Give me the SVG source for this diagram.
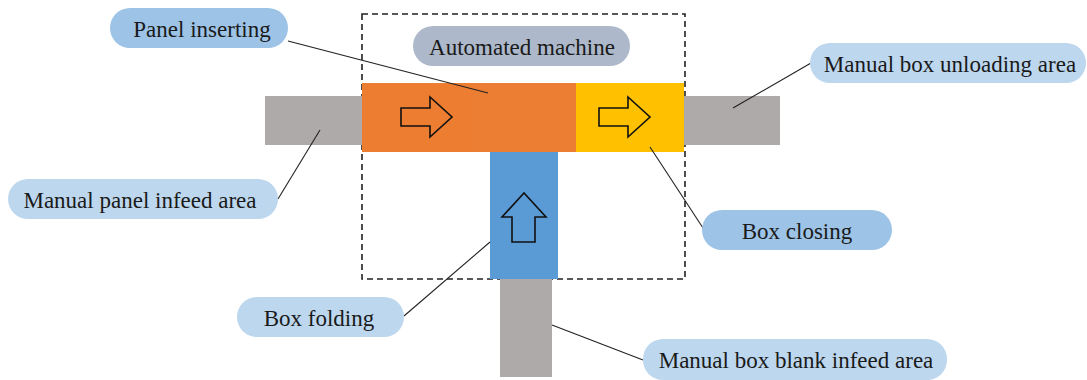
<svg xmlns="http://www.w3.org/2000/svg" width="1087" height="380" viewBox="0 0 1087 380">
<style>
text{font-family:"Liberation Serif","Times New Roman",serif;font-size:23px;fill:#1a1a1a;text-anchor:middle;dominant-baseline:central}
.gray{fill:#AEAAAA}
.lead{stroke:#222;stroke-width:1.1;fill:none}
.arr{fill:none;stroke:#111;stroke-width:1.6;stroke-linejoin:miter}
.p1{fill:#9DC3E6}
.p2{fill:#BDD7EE}
</style>
<rect width="1087" height="380" fill="#fff"/>
<g id="machine-area">
<rect x="362" y="14" width="323" height="265" fill="none" stroke="#222" stroke-width="1.6" stroke-dasharray="6,4"/>
</g>
<g id="panel-infeed-conveyor"><rect class="gray" x="265" y="96" width="97" height="49"/></g>
<g id="unloading-conveyor"><rect class="gray" x="684" y="96" width="96" height="49"/></g>
<g id="blank-infeed-conveyor"><rect class="gray" x="500" y="279" width="52" height="98"/></g>
<g id="station-infeed"><rect x="362" y="83" width="109" height="69" fill="#ED7D31"/>
<path class="arr" d="M401,108 H430 V97 L452,117 L430,137 V126 H401 Z"/></g>
<g id="station-inserting"><rect x="470" y="83" width="106" height="69" fill="#EC7E33"/></g>
<g id="station-closing"><rect x="576" y="83" width="108" height="69" fill="#FFC000"/>
<path class="arr" d="M599,108 H628 V97 L650,117 L628,137 V126 H599 Z"/></g>
<g id="station-folding"><rect x="490" y="152" width="68" height="127" fill="#5B9BD5"/>
<path class="arr" d="M512,242 V217 H502 L524,193 L546,217 H535 V242 Z"/></g>
<g id="connectors">
<line class="lead" x1="288" y1="41" x2="488" y2="93"/>
<line class="lead" x1="811" y1="63" x2="733" y2="108"/>
<line class="lead" x1="278" y1="199" x2="320" y2="130"/>
<line class="lead" x1="703" y1="228" x2="650" y2="147"/>
<line class="lead" x1="404" y1="316" x2="490" y2="242"/>
<line class="lead" x1="643" y1="360" x2="552" y2="325"/>
</g>
<g id="label-panel-inserting"><rect class="p1" x="110" y="8" width="178" height="40" rx="20"/><text x="202" y="29">Panel inserting</text></g>
<g id="label-automated"><rect x="413" y="26" width="217" height="40" rx="20" fill="#ADB9CA"/><text x="522" y="47">Automated machine</text></g>
<g id="label-unloading"><rect class="p2" x="810" y="43" width="276" height="40" rx="20"/><text x="950" y="64">Manual box unloading area</text></g>
<g id="label-panel-infeed"><rect class="p2" x="8" y="179" width="270" height="40" rx="20"/><text x="140" y="200">Manual panel infeed area</text></g>
<g id="label-box-closing"><rect class="p1" x="702" y="210" width="190" height="40" rx="20"/><text x="797" y="231">Box closing</text></g>
<g id="label-box-folding"><rect class="p2" x="237" y="297" width="167" height="40" rx="20"/><text x="319" y="318">Box folding</text></g>
<g id="label-blank-infeed"><rect class="p2" x="643" y="339" width="304" height="41" rx="20"/><text x="796" y="360">Manual box blank infeed area</text></g>
</svg>
